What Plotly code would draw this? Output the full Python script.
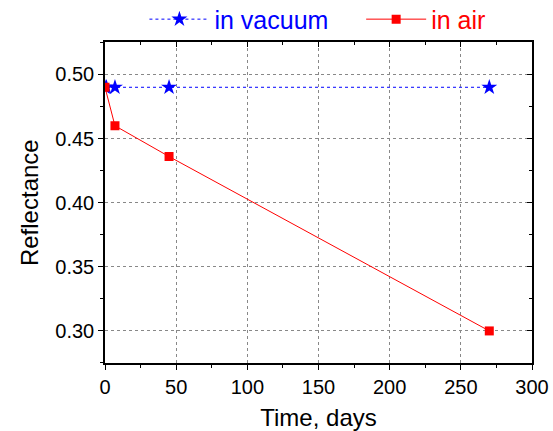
import plotly.graph_objects as go

vac_days = [0, 1, 7, 45, 270]
vac_refl = [0.49, 0.49, 0.49, 0.49, 0.49]
air_days = [0, 7, 45, 270]
air_refl = [0.49, 0.46, 0.436, 0.30]

x_ticks = [0, 50, 100, 150, 200, 250, 300]
y_ticks = [0.30, 0.35, 0.40, 0.45, 0.50]

font = "Liberation Sans, Arial, sans-serif"
pad = "\u00a0" * 4

fig = go.Figure()
fig.add_trace(go.Scatter(
    x=vac_days, y=vac_refl, mode="lines+markers",
    name="<span style='color:#0000ff'>in vacuum" + pad + "</span>",
    line=dict(color="#0000ff", width=1, dash="dot"),
    marker=dict(symbol="star", size=12, color="#0000ff"),
))
fig.add_trace(go.Scatter(
    x=air_days, y=air_refl, mode="lines+markers",
    name="<span style='color:#ff0000'>in air</span>",
    line=dict(color="#ff0000", width=1),
    marker=dict(symbol="square", size=9, color="#ff0000"),
))

axis_common = dict(showline=True, linecolor="black", linewidth=1.5, automargin=False,
                   zeroline=False, tickcolor="black", ticklen=5, tickwidth=1)

fig.update_layout(
    width=553, height=431,
    margin=dict(l=105, r=21, t=42, b=68),
    plot_bgcolor="white", paper_bgcolor="white",
    font=dict(family=font, size=20, color="black"),
    showlegend=True,
    legend=dict(orientation="h", x=0.574, xanchor="center", y=0.955, yanchor="middle",
                yref="container", xref="container",
                font=dict(size=25), itemwidth=60, bgcolor="rgba(0,0,0,0)"),
    xaxis=dict(range=[0, 300], tickvals=x_ticks, ticks="outside",
               showgrid=True, gridcolor="#888888", griddash="3px,3px", gridwidth=1,
               minor=dict(ticks="outside", ticklen=3, tickcolor="black", dtick=25, showgrid=False),
               title=dict(text="Time, days", font=dict(size=24), standoff=12),
               **axis_common),
    yaxis=dict(range=[0.275, 0.525], tickvals=y_ticks, tickformat=".2f", ticks="outside",
               showgrid=True, gridcolor="#888888", griddash="3px,3px", gridwidth=1,
               minor=dict(ticks="outside", ticklen=3, tickcolor="black", dtick=0.025, tick0=0.275, showgrid=False),
               title=dict(text="Reflectance", font=dict(size=24), standoff=10),
               **axis_common),
    xaxis2=dict(range=[0, 300], tickvals=x_ticks, ticks="inside", side="top",
                overlaying="x", showticklabels=False, showgrid=False,
                minor=dict(ticks="inside", ticklen=3, tickcolor="black", dtick=25),
                **axis_common),
    yaxis2=dict(range=[0.275, 0.525], tickvals=y_ticks, ticks="inside", side="right",
                overlaying="y", showticklabels=False, showgrid=False,
                minor=dict(ticks="inside", ticklen=3, tickcolor="black", dtick=0.025, tick0=0.275),
                **axis_common),
)

fig.add_trace(go.Scatter(x=[None], y=[None], xaxis="x2", yaxis="y2",
                         showlegend=False, hoverinfo="skip"))

fig.write_html("out.html", config={"displayModeBar": False},
               post_script="document.body.style.margin='0';document.body.style.padding='0';")
